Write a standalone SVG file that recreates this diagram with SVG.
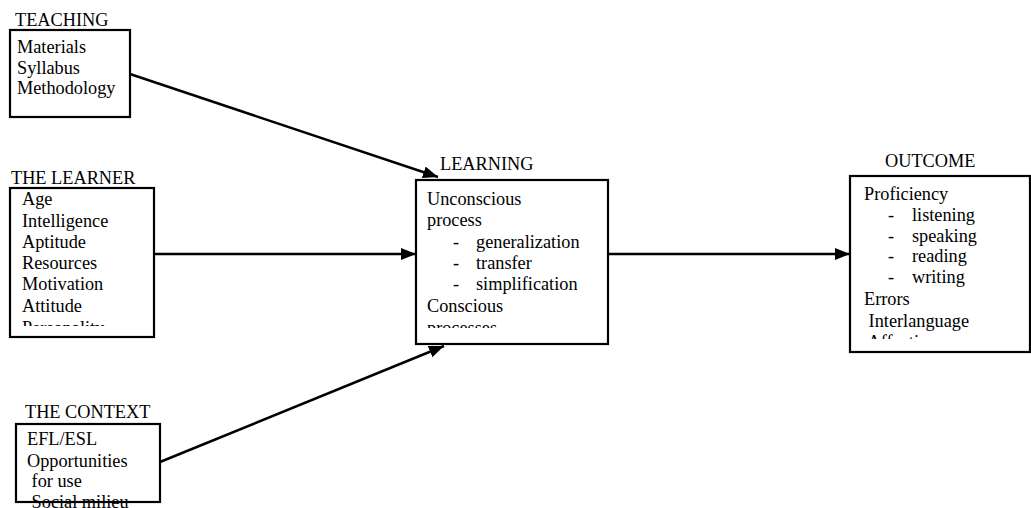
<svg xmlns="http://www.w3.org/2000/svg" width="1031" height="508" viewBox="0 0 1031 508">
<style>
text{font-family:"Liberation Serif","Times New Roman",serif;font-size:18.3px;fill:#000}
.box{fill:none;stroke:#000;stroke-width:2.2}
.con{stroke:#000;stroke-width:2.5;fill:none}
</style>
<defs>
<marker id="ah" markerUnits="userSpaceOnUse" markerWidth="16" markerHeight="12" refX="15" refY="6" orient="auto">
<path d="M0,0 L15,6 L0,12 Z" fill="#000"/>
</marker>
<clipPath id="cl"><rect x="10" y="188" width="144" height="138"/></clipPath>
<clipPath id="cg"><rect x="416" y="180" width="192" height="148"/></clipPath>
<clipPath id="co"><rect x="850" y="176" width="181" height="163"/></clipPath>
</defs>
<rect width="1031" height="508" fill="#fff"/>
<g id="connectors">
<line class="con" x1="130" y1="74" x2="438" y2="177" marker-end="url(#ah)"/>
<line class="con" x1="154" y1="254" x2="416" y2="254" marker-end="url(#ah)"/>
<line class="con" x1="160" y1="462" x2="444" y2="346" marker-end="url(#ah)"/>
<line class="con" x1="608" y1="254" x2="850" y2="254" marker-end="url(#ah)"/>
</g>
<g id="teaching">
<text x="15" y="26">TEACHING</text>
<rect class="box" x="10" y="30" width="120" height="87"/>
<text x="17" y="53">Materials</text>
<text x="17" y="74">Syllabus</text>
<text x="17" y="94">Methodology</text>
</g>
<g id="learner">
<text x="11" y="184">THE LEARNER</text>
<g clip-path="url(#cl)">
<text x="22" y="205">Age</text>
<text x="22" y="227">Intelligence</text>
<text x="22" y="248">Aptitude</text>
<text x="22" y="269">Resources</text>
<text x="22" y="290">Motivation</text>
<text x="22" y="312">Attitude</text>
<text x="22" y="334">Personality</text>
</g>
<rect class="box" x="10" y="188" width="144" height="149"/>
</g>
<g id="context">
<text x="25" y="418">THE CONTEXT</text>
<text x="27" y="445">EFL/ESL</text>
<text x="27" y="467">Opportunities</text>
<text x="27" y="487" xml:space="preserve"> for use</text>
<text x="27" y="508" xml:space="preserve"> Social milieu</text>
<rect class="box" x="16" y="424" width="144" height="78"/>
</g>
<g id="learning">
<text x="440" y="170">LEARNING</text>
<g clip-path="url(#cg)">
<text x="427" y="205">Unconscious</text>
<text x="427" y="226">process</text>
<text x="453" y="248">-</text><text x="476" y="248">generalization</text>
<text x="453" y="269">-</text><text x="476" y="269">transfer</text>
<text x="453" y="290">-</text><text x="476" y="290">simplification</text>
<text x="427" y="312">Conscious</text>
<text x="427" y="334">processes</text>
</g>
<rect class="box" x="416" y="180" width="192" height="164"/>
</g>
<g id="outcome">
<text x="885" y="167">OUTCOME</text>
<g clip-path="url(#co)">
<text x="864" y="200">Proficiency</text>
<text x="888" y="221">-</text><text x="912" y="221">listening</text>
<text x="888" y="242">-</text><text x="912" y="242">speaking</text>
<text x="888" y="262">-</text><text x="912" y="262">reading</text>
<text x="888" y="283">-</text><text x="912" y="283">writing</text>
<text x="864" y="305">Errors</text>
<text x="864" y="327" xml:space="preserve"> Interlanguage</text>
<text x="864" y="348" xml:space="preserve"> Affective</text>
</g>
<rect class="box" x="850" y="176" width="180" height="176"/>
</g>
</svg>
